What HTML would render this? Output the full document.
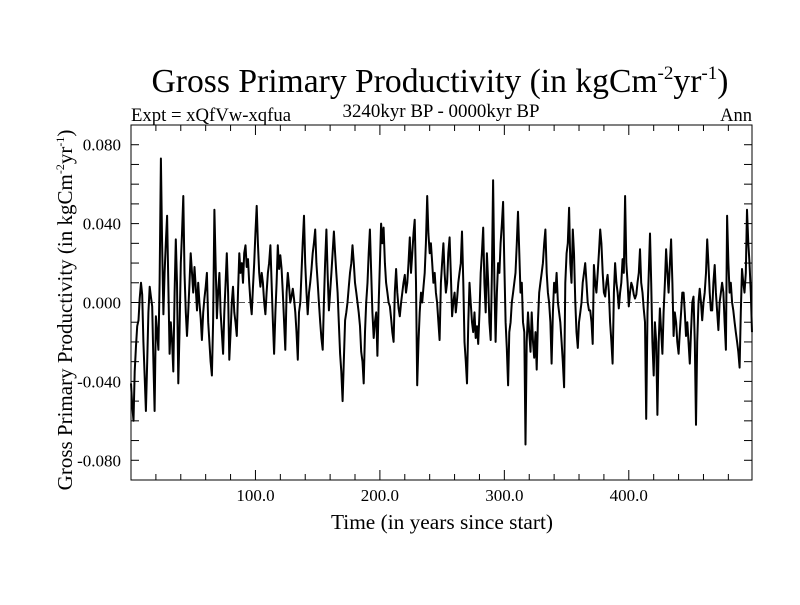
<!DOCTYPE html>
<html><head><meta charset="utf-8"><style>
body{margin:0;background:#fff}
svg text{font-family:"Liberation Serif",serif;fill:#000}
</style></head><body>
<svg id="chart" width="800" height="600" viewBox="0 0 800 600" xmlns="http://www.w3.org/2000/svg">
<rect width="800" height="600" fill="#fff"/>
<text x="440" y="92" font-size="33.5" text-anchor="middle" textLength="577" lengthAdjust="spacingAndGlyphs">Gross Primary Productivity (in kgCm<tspan font-size="19" dy="-13">-2</tspan><tspan dy="13">yr</tspan><tspan font-size="19" dy="-13">-1</tspan><tspan dy="13">)</tspan></text>
<text x="131" y="121" font-size="18.5" textLength="160" lengthAdjust="spacingAndGlyphs">Expt = xQfVw-xqfua</text>
<text x="441" y="117" font-size="18.5" text-anchor="middle" textLength="197" lengthAdjust="spacingAndGlyphs">3240kyr BP - 0000kyr BP</text>
<text x="752" y="121" font-size="18.5" text-anchor="end">Ann</text>
<text x="442" y="529" font-size="21.5" text-anchor="middle" textLength="222" lengthAdjust="spacingAndGlyphs">Time (in years since start)</text>
<text transform="translate(72,310) rotate(-90)" font-size="21" text-anchor="middle">Gross Primary Productivity (in kgCm<tspan font-size="12" dy="-8">-2</tspan><tspan dy="8">yr</tspan><tspan font-size="12" dy="-8">-1</tspan><tspan dy="8">)</tspan></text>
<g id="axes"></g>
<g id="series"></g>
</svg>
<script>
const yearsStart = 0;
const xTickValues = [100, 200, 300, 400];
const xTickLabels = ["100.0", "200.0", "300.0", "400.0"];
const yTickValues = [0.08, 0.04, 0, -0.04, -0.08];
const yTickLabels = ["0.080", "0.040", "0.000", "-0.040", "-0.080"];
const gppMilli = [
-41,-52,-60,-35,-22,-12,-9,2,10,4,-20,-38,-55,-30,-5,8,3,-2,-30,-55,
-7,-15,-24,10,73,30,-6,15,30,44,10,-26,-10,-20,-35,5,32,10,-41,-15,
20,35,54,15,-5,-17,-5,10,25,15,5,18,8,-4,10,0,-8,-19,-5,2,
8,15,-10,-20,-30,-37,-10,47,20,-8,5,15,-5,-15,-26,-5,10,25,5,-29,
-15,0,8,-5,-10,-17,5,25,15,20,10,25,29,18,22,10,0,-6,8,20,
35,49,30,15,8,15,10,0,-6,5,15,20,29,10,-10,-26,-5,10,29,17,
24,17,5,-10,-24,5,15,8,0,3,7,2,-5,-15,-29,-5,0,15,30,44,
20,5,-6,5,10,17,25,30,37,20,10,0,-10,-18,-24,0,20,37,15,-4,
5,15,25,36,25,15,5,-10,-26,-35,-50,-30,-9,-5,0,8,15,20,29,20,
10,5,0,-5,-12,-25,-30,-41,-15,0,10,25,37,15,-5,-18,-10,-5,-27,0,
20,40,30,38,20,10,5,0,-2,-8,-15,-20,5,17,5,-3,-7,0,5,10,
14,5,10,20,33,15,25,35,42,10,-42,-20,-5,5,0,8,15,30,54,35,
25,30,20,10,15,5,0,-10,-19,10,20,30,15,5,10,25,33,15,-7,0,
5,-5,2,10,15,20,36,10,-20,-30,-41,-10,10,0,-10,-15,-5,-18,-12,-21,
-5,15,25,38,10,-5,25,10,-10,-19,15,62,10,-20,5,20,15,30,40,51,
20,-10,-23,-42,-15,-10,0,5,10,15,30,46,25,5,10,-10,-15,-72,-20,-5,
-15,-25,-5,-20,-28,-15,-34,-10,5,10,15,20,30,37,15,5,0,-10,-31,-5,
10,5,15,0,-5,-10,-20,-30,-43,10,25,30,48,20,10,37,25,0,-15,-23,
-10,-5,0,10,15,20,10,0,-4,-4,-10,-21,19,10,5,15,25,37,30,15,
5,3,10,14,5,-10,-20,-31,5,20,10,5,-3,5,10,22,15,54,20,10,
-2,5,10,8,4,2,4,10,15,27,10,5,-3,-10,-59,-5,14,35,10,-20,
-37,-10,-20,-57,-20,-3,-15,-26,-5,10,27,15,5,20,32,10,-17,-5,-10,-20,
-26,-15,-5,5,5,-5,-17,-10,-20,-31,-15,0,3,-20,-62,-20,0,7,0,-9,
0,5,15,32,20,5,-4,-4,10,19,5,-5,-14,0,5,10,5,-10,-24,44,
20,5,10,0,-4,-10,-15,-20,-25,-33,-5,17,10,5,15,47,30,20,5,-15
];
const L=131,R=752,T=125,B=480, X0=0, X1=499, Y0=-0.09, Y1=0.09;
const NS="http://www.w3.org/2000/svg";
function xs(v){return L+(v-X0)/(X1-X0)*(R-L);}
function ys(v){return B-(v-Y0)/(Y1-Y0)*(B-T);}
function mk(tag,attrs,parent){const e=document.createElementNS(NS,tag);for(const k in attrs)e.setAttribute(k,attrs[k]);parent.appendChild(e);return e;}
const axes=document.getElementById('axes');
const frame=mk('rect',{x:L,y:T,width:R-L,height:B-T,fill:'none',stroke:'#000','stroke-width':1},axes);


const zl=mk('line',{x1:L,x2:R,y1:ys(0),y2:ys(0),stroke:'#555','stroke-width':1,'stroke-dasharray':'6,3'},axes);


for(let k=-8;k<=8;k++){const y=ys(k/100);
 mk('line',{x1:L,x2:L+8,y1:y,y2:y,stroke:'#000'},axes);
 mk('line',{x1:R,x2:R-8,y1:y,y2:y,stroke:'#000'},axes);}
for(let v=20;v<500;v+=20){const x=xs(v);const len=(v%100===0)?10:6;
 mk('line',{x1:x,x2:x,y1:B,y2:B-len,stroke:'#000'},axes);
 mk('line',{x1:x,x2:x,y1:T,y2:T+len,stroke:'#000'},axes);}
xTickValues.forEach((v,i)=>{const t=mk('text',{x:xs(v),y:B+21,'font-size':17,'text-anchor':'middle'},axes);t.textContent=xTickLabels[i];
 
 });
yTickValues.forEach((v,i)=>{const t=mk('text',{x:121,y:ys(v)+6,'font-size':17,'text-anchor':'end'},axes);t.textContent=yTickLabels[i];
 
 });
const pts=gppMilli.map((v,i)=>xs(yearsStart+i).toFixed(1)+','+ys(v/1000).toFixed(1)).join(' ');
const line=mk('polyline',{points:pts,fill:'none',stroke:'#000','stroke-width':2,'stroke-linejoin':'round'},document.getElementById('series'));


</script>
</body></html>
